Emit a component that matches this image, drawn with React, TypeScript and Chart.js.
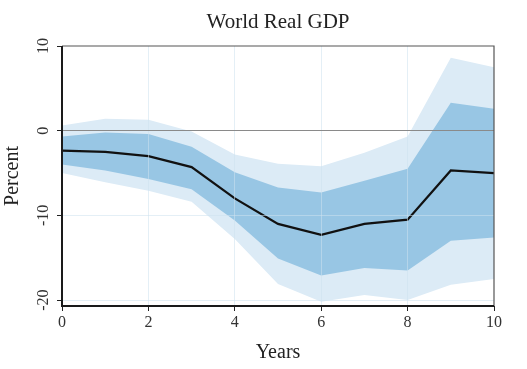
import React, { useEffect, useRef } from 'react';
import { Chart, registerables } from 'chart.js';

Chart.register(...registerables);

const years = [0, 1, 2, 3, 4, 5, 6, 7, 8, 9, 10];
const median = [-2.35, -2.5, -3.0, -4.3, -8.0, -11.0, -12.3, -11.0, -10.5, -4.7, -5.0];
const band68Upper = [-0.7, -0.2, -0.4, -1.9, -4.9, -6.7, -7.3, -5.9, -4.5, 3.3, 2.6];
const band68Lower = [-4.0, -4.7, -5.7, -6.9, -10.6, -15.1, -17.1, -16.2, -16.5, -13.0, -12.6];
const band90Upper = [0.6, 1.4, 1.3, -0.1, -2.8, -3.9, -4.2, -2.6, -0.7, 8.6, 7.5];
const band90Lower = [-5.0, -6.1, -7.1, -8.4, -12.8, -18.1, -20.2, -19.4, -20.0, -18.2, -17.5];
const xTicks = [0, 2, 4, 6, 8, 10];
const yTicks = [-20, -10, 0, 10];
const titleText = 'World Real GDP';

const SERIF = '"Liberation Serif", "DejaVu Serif", serif';
const LIGHT = '#dcebf6';
const DARK = '#98c6e4';

const pts = (vals: number[]) => years.map((x, i) => ({ x, y: vals[i] }));

const framePlugin = {
  id: 'frame',
  afterDraw(chart: any) {
    const { ctx, chartArea: a } = chart;
    ctx.save();
    ctx.strokeStyle = '#555';
    ctx.lineWidth = 1.2;
    ctx.beginPath();
    ctx.moveTo(a.left, a.top);
    ctx.lineTo(a.right, a.top);
    ctx.lineTo(a.right, a.bottom);
    ctx.stroke();
    ctx.strokeStyle = '#1a1a1a';
    ctx.lineWidth = 2;
    ctx.beginPath();
    ctx.moveTo(a.left, a.top);
    ctx.lineTo(a.left, a.bottom);
    ctx.lineTo(a.right, a.bottom);
    ctx.stroke();
    // title centred over the plot area
    ctx.font = '21px ' + SERIF;
    ctx.fillStyle = '#222';
    ctx.textAlign = 'center';
    ctx.textBaseline = 'middle';
    ctx.fillText(titleText, (a.left + a.right) / 2, 22);
    // rotated y tick labels
    const ys = chart.scales.y;
    ctx.font = '16px ' + SERIF;
    ctx.fillStyle = '#333';
    for (const v of yTicks) {
      const py = ys.getPixelForValue(v);
      ctx.save();
      ctx.translate(44, py);
      ctx.rotate(-Math.PI / 2);
      ctx.fillText(String(v), 0, 0);
      ctx.restore();
    }
    ctx.restore();
  },
};

export default function App() {
  const ref = useRef<HTMLCanvasElement>(null);
  useEffect(() => {
    if (!ref.current) return;
    const chart = new Chart(ref.current, {
      type: 'line',
      data: {
        datasets: [
          { label: '90 upper', data: pts(band90Upper), fill: '+1', backgroundColor: LIGHT, borderWidth: 0, pointRadius: 0, order: 3 },
          { label: '90 lower', data: pts(band90Lower), fill: false, borderWidth: 0, pointRadius: 0, order: 3 },
          { label: '68 upper', data: pts(band68Upper), fill: '+1', backgroundColor: DARK, borderWidth: 0, pointRadius: 0, order: 2 },
          { label: '68 lower', data: pts(band68Lower), fill: false, borderWidth: 0, pointRadius: 0, order: 2 },
          { label: 'Median', data: pts(median), fill: false, borderColor: '#111', borderWidth: 2.2, pointRadius: 0, order: 1 },
        ],
      },
      options: {
        responsive: false,
        animation: false,
        layout: { padding: { left: 0, right: 33, top: 46, bottom: 0 } },
        plugins: {
          legend: { display: false },
          tooltip: { enabled: false },
          title: { display: false },
        },
        scales: {
          x: {
            type: 'linear',
            min: 0,
            max: 10,
            afterBuildTicks: (s: any) => { s.ticks = xTicks.map((v) => ({ value: v })); },
            afterFit: (s: any) => { s.height = 63; },
            grid: {
              z: 1,
              color: (c: any) => (c.tick && (c.tick.value === 0 || c.tick.value === 10) ? 'rgba(0,0,0,0)' : 'rgba(205,225,238,0.55)'),
              tickColor: '#222',
              tickLength: 5,
              lineWidth: 1,
            },
            border: { display: false },
            ticks: { color: '#333', font: { family: SERIF, size: 16 }, padding: 2, maxRotation: 0 },
            title: { display: true, text: 'Years', color: '#222', font: { family: SERIF, size: 20 }, padding: { top: 0, bottom: 4 } },
          },
          y: {
            min: -20.7,
            max: 10,
            afterBuildTicks: (s: any) => { s.ticks = yTicks.map((v) => ({ value: v })); },
            afterFit: (s: any) => { s.width = 62; },
            grid: {
              z: 1,
              color: (c: any) => (c.tick && c.tick.value === 0 ? '#8a8a8a' : c.tick && c.tick.value === 10 ? 'rgba(0,0,0,0)' : 'rgba(205,225,238,0.55)'),
              tickColor: '#222',
              tickLength: 5,
              lineWidth: 1,
            },
            border: { display: false },
            ticks: { display: false },
            title: { display: true, text: 'Percent', color: '#222', font: { family: SERIF, size: 20 }, padding: { top: 1, bottom: 0 } },
          },
        },
      },
      plugins: [framePlugin],
    } as any);
    return () => chart.destroy();
  }, []);
  return (
    <div style={{ position: 'absolute', left: 0, top: 0, width: 527, height: 369, background: '#fff' }}>
      <canvas ref={ref} width={527} height={369} />
    </div>
  );
}
